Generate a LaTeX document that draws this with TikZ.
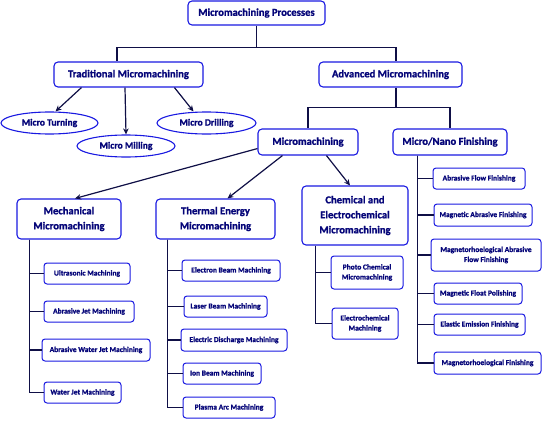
\documentclass[tikz,border=0pt]{standalone}
\usepackage{fontspec}
\setmainfont{Carlito}[BoldFont={Carlito Bold}, BoldFeatures={FakeBold=1.2}]
\usetikzlibrary{arrows.meta,shapes.geometric}
\definecolor{boxblue}{RGB}{25,25,225}
\definecolor{txtnavy}{RGB}{5,5,120}
\definecolor{linenavy}{RGB}{15,15,70}
\newcommand{\boxat}[7]{%
  \node[#6, minimum width={(#4-#2)*1pt}, minimum height={(#5-#3)*1pt}] (#1) at ({(#2+#4)/2},{(#3+#5)/2}) {#7};}
\tikzset{
  base/.style={draw=boxblue, line width=1.1pt, text=txtnavy, inner sep=1pt, align=center},
  bigbox/.style={base, rounded corners=4pt, font=\fontsize{10.6}{15}\selectfont\bfseries},
  smallbox/.style={base, rounded corners=3pt, line width=1pt, font=\fontsize{7.5}{10}\selectfont\bfseries},
  oval/.style={base, ellipse, font=\fontsize{9.6}{11}\selectfont\bfseries},
  conn/.style={draw=linenavy, line width=1.2pt},
  arr/.style={conn, -{Stealth[length=6pt,width=5.5pt]}},
}
\begin{document}
\begin{tikzpicture}[x=1pt,y=-1pt]
\useasboundingbox (0,0) rectangle (543,420);
% top levels
\boxat{root}{188}{1}{325}{25}{bigbox}{Micromachining Processes}
\boxat{trad}{54}{62}{203}{87}{bigbox}{Traditional Micromachining}
\boxat{adv}{319}{62}{462}{87}{bigbox}{Advanced Micromachining}
\boxat{mt}{1}{112}{98}{134}{oval}{Micro Turning}
\boxat{mmil}{77}{135}{175}{157}{oval}{Micro Milling}
\boxat{mdr}{157}{112}{256}{134}{oval}{Micro Drilling}
\boxat{mm}{258}{129}{358}{155}{bigbox}{Micromachining}
\boxat{mn}{393}{129}{507}{155}{bigbox}{Micro/Nano Finishing}
\boxat{mech}{17}{199}{121}{239}{bigbox}{Mechanical\\Micromachining}
\boxat{therm}{156}{199}{275}{239}{bigbox}{Thermal Energy\\Micromachining}
\boxat{chem}{302}{186}{408}{245}{bigbox}{Chemical and\\Electrochemical\\Micromachining}
% mechanical
\boxat{ultra}{44}{263}{130}{284}{smallbox}{Ultrasonic Machining}
\boxat{ajm}{44}{301}{134}{322}{smallbox}{Abrasive Jet Machining}
\boxat{awjm}{42}{339}{150}{361}{smallbox}{Abrasive Water Jet Machining}
\boxat{wjm}{44}{382}{121}{403}{smallbox}{Water Jet Machining}
% thermal
\boxat{ebm}{182}{260}{280}{281}{smallbox}{Electron Beam Machining}
\boxat{lbm}{184}{296}{267}{317}{smallbox}{Laser Beam Machining}
\boxat{edm}{181}{329}{287}{351}{smallbox}{Electric Discharge Machining}
\boxat{ibm}{183}{363}{261}{384}{smallbox}{Ion Beam Machining}
\boxat{pam}{183}{397}{275}{418}{smallbox}{Plasma Arc Machining}
% chemical
\boxat{pcm}{331}{256}{403}{289}{smallbox}{Photo Chemical\\Micromachining}
\boxat{ecm}{332}{308}{398}{339}{smallbox}{Electrochemical\\Machining}
% finishing
\boxat{afm}{433}{168}{525}{189}{smallbox}{Abrasive Flow Finishing}
\boxat{maf}{434}{204}{532}{226}{smallbox}{Magnetic Abrasive Finishing}
\boxat{mraf}{431}{239}{541}{271}{smallbox}{Magnetorhoelogical Abrasive\\Flow Finishing}
\boxat{mfp}{434}{283}{522}{304}{smallbox}{Magnetic Float Polishing}
\boxat{eef}{434}{314}{525}{335}{smallbox}{Elastic Emission Finishing}
\boxat{mrf}{434}{352}{541}{374}{smallbox}{Magnetorhoelogical Finishing}
% connectors top
\draw[conn] (root.south) -- ++(0,22) coordinate (j1);
\draw[conn] (j1) -| ([xshift=-11.5pt]trad.north);
\draw[conn] (j1) -| ([xshift=5.5pt]adv.north);
\draw[conn] ([xshift=5.5pt]adv.south) -- ++(0,20) coordinate (j2);
\draw[conn] (j2) -| (mm.north);
\draw[conn] (j2) -| (mn.north);
% arrows traditional
\draw[arr] ([xshift=28pt]trad.south west) -- ([xshift=6pt]mt.north);
\draw[arr] ([xshift=-3.5pt]trad.south) -- (mmil.north);
\draw[arr] ([xshift=121pt]trad.south west) -- ([xshift=-13pt]mdr.north);
% arrows micromachining
\draw[arr] ([yshift=7pt]mm.south west) -- ([xshift=6pt]mech.north);
\draw[arr] ([xshift=25pt]mm.south west) -- ([xshift=12pt]therm.north);
\draw[arr] ([xshift=69pt]mm.south west) -- ([xshift=-5pt]chem.north);
% trunks
\draw[conn] ([xshift=13pt]mech.south west) |- (ultra.west);
\draw[conn] ([xshift=13pt]mech.south west) |- (ajm.west);
\draw[conn] ([xshift=13pt]mech.south west) |- (awjm.west);
\draw[conn] ([xshift=13pt]mech.south west) |- (wjm.west);
\draw[conn] ([xshift=12pt]therm.south west) |- (ebm.west);
\draw[conn] ([xshift=12pt]therm.south west) |- (lbm.west);
\draw[conn] ([xshift=12pt]therm.south west) |- (edm.west);
\draw[conn] ([xshift=12pt]therm.south west) |- (ibm.west);
\draw[conn] ([xshift=12pt]therm.south west) |- (pam.west);
\draw[conn] ([xshift=14pt]chem.south west) |- (pcm.west);
\draw[conn] ([xshift=14pt]chem.south west) |- (ecm.west);
\draw[conn] ([xshift=25pt]mn.south west) |- (afm.west);
\draw[conn] ([xshift=25pt]mn.south west) |- (maf.west);
\draw[conn] ([xshift=25pt]mn.south west) |- (mraf.west);
\draw[conn] ([xshift=25pt]mn.south west) |- (mfp.west);
\draw[conn] ([xshift=25pt]mn.south west) |- (eef.west);
\draw[conn] ([xshift=25pt]mn.south west) |- (mrf.west);
\end{tikzpicture}
\end{document}
